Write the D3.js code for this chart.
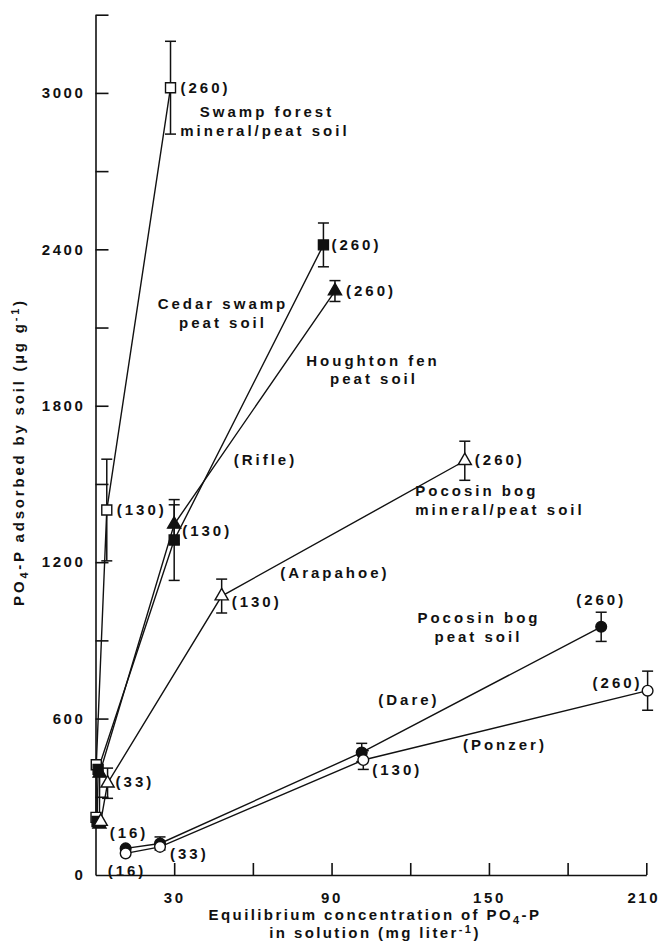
<!DOCTYPE html>
<html>
<head>
<meta charset="utf-8">
<script src="https://cdn.jsdelivr.net/npm/d3@7/dist/d3.min.js"></script>
<style>
  html, body { margin: 0; padding: 0; background: #fff; }
  svg text { font-family: "Liberation Sans", Arial, sans-serif; font-weight: bold; fill: #111; }
</style>
</head>
<body>
<svg id="chart" width="663" height="945"></svg>
<script>
// P added to the soil (mg/l), printed in brackets beside the points
const addedP = [16, 33, 130, 260];

// Swamp forest mineral/peat soil (open squares)
const swampX = [0.2, 0.3, 4.3, 28.6];
const swampY = [221, 423, 1400, 3020];
const swampErr = [0, 0, 195, 178];

// Cedar swamp peat soil (filled squares)
const cedarX = [0.6, 1.0, 30, 86.9];
const cedarY = [205, 405, 1285, 2417];
const cedarErr = [0, 0, 155, 84];

// Houghton fen peat soil (filled triangles)
const houghtonX = [1.5, 1.6, 30, 91.3];
const houghtonY = [195, 390, 1345, 2240];
const houghtonErr = [0, 0, 75, 40];

// Pocosin bog mineral/peat soil, Arapahoe (open triangles)
const arapahoeX = [2.0, 4.6, 48.1, 140.8];
const arapahoeY = [205, 352, 1070, 1589];
const arapahoeErr = [0, 58, 65, 75];

// Pocosin bog peat soil, Dare (filled circles)
const dareX = [11.5, 24.6, 101.5, 192.8];
const dareY = [102, 121, 470, 952];
const dareErr = [0, 25, 35, 56];

// Pocosin bog peat soil, Ponzer (open circles)
const ponzerX = [11.5, 24.6, 102.1, 210.5];
const ponzerY = [83, 108, 441, 707];
const ponzerErr = [0, 0, 36, 75];

// axis ticks
const xTicks = [30, 60, 90, 120, 150, 180, 210];
const xLabels = [30, 90, 150, 210];
const yTicks = [300, 600, 900, 1200, 1500, 1800, 2100, 2400, 2700, 3000, 3300];
const yLabels = [0, 600, 1200, 1800, 2400, 3000];

// soil names, placed in data units
const soilNames = ['Swamp forest', 'mineral/peat soil', 'Cedar swamp', 'peat soil',
  'Houghton fen', 'peat soil', '(Rifle)', '(Arapahoe)', 'Pocosin bog', 'mineral/peat soil',
  'Pocosin bog', 'peat soil', '(Dare)', '(Ponzer)'];
const soilNameX = [65.4, 64.6, 48.6, 48.6, 105.8, 106.2, 64.8, 91.3, 145.4, 154.2, 146.2, 146, 119.5, 156.1];
const soilNameY = [2906, 2836, 2170, 2100, 1952, 1882, 1573, 1139, 1452, 1380, 966, 892, 652, 479];

const series = [
  { key: 'swamp', x: swampX, y: swampY, err: swampErr, sym: d3.symbolSquare, size: 100, fill: '#fff' },
  { key: 'cedar', x: cedarX, y: cedarY, err: cedarErr, sym: d3.symbolSquare, size: 100, fill: '#111' },
  { key: 'houghton', x: houghtonX, y: houghtonY, err: houghtonErr, sym: d3.symbolTriangle, size: 75, fill: '#111' },
  { key: 'arapahoe', x: arapahoeX, y: arapahoeY, err: arapahoeErr, sym: d3.symbolTriangle, size: 75, fill: '#fff' },
  { key: 'dare', x: dareX, y: dareY, err: dareErr, sym: d3.symbolCircle, size: 90, fill: '#111' },
  { key: 'ponzer', x: ponzerX, y: ponzerY, err: ponzerErr, sym: d3.symbolCircle, size: 90, fill: '#fff' }
];

// which point gets a bracketed label, and where the label sits relative to it
const pointLabels = [
  { key: 'swamp', i: 3, dx: 10, dy: 5, anchor: 'start' },
  { key: 'cedar', i: 3, dx: 8, dy: 5, anchor: 'start' },
  { key: 'houghton', i: 3, dx: 11, dy: 5, anchor: 'start' },
  { key: 'swamp', i: 2, dx: 10, dy: 5, anchor: 'start' },
  { key: 'houghton', i: 2, dx: 8, dy: 12, anchor: 'start' },
  { key: 'arapahoe', i: 2, dx: 10, dy: 11, anchor: 'start' },
  { key: 'arapahoe', i: 3, dx: 10, dy: 4, anchor: 'start' },
  { key: 'dare', i: 3, dx: 0, dy: -22, anchor: 'middle' },
  { key: 'ponzer', i: 3, dx: -5, dy: -3, anchor: 'end' },
  { key: 'ponzer', i: 2, dx: 9, dy: 15, anchor: 'start' },
  { key: 'arapahoe', i: 1, dx: 8, dy: 4, anchor: 'start' },
  { key: 'dare', i: 0, dx: -16, dy: -10, anchor: 'start' },
  { key: 'ponzer', i: 1, dx: 10, dy: 12, anchor: 'start' },
  { key: 'ponzer', i: 0, dx: -18, dy: 23, anchor: 'start' }
];

const svg = d3.select('#chart');
const x = d3.scaleLinear().domain([0, 210]).range([95.5, 646.3]);
const y = d3.scaleLinear().domain([0, 3300]).range([875, 14.7]);

const FONT = '15px';
const SPACING = '3px';

// y axis, ticks pointing inward
const yAxis = d3.axisLeft(y)
  .tickValues([0].concat(yTicks))
  .tickSize(-13)
  .tickSizeOuter(0)
  .tickPadding(10)
  .tickFormat(d => yLabels.includes(d) ? d : '');
const gy = svg.append('g').attr('transform', `translate(${x(0)},0)`).call(yAxis);
gy.selectAll('.tick').filter(d => d === 0).select('line').remove();

// x axis, ticks pointing up
const xAxis = d3.axisBottom(x)
  .tickValues(xTicks)
  .tickSize(-12)
  .tickSizeOuter(0)
  .tickPadding(17)
  .tickFormat(d => xLabels.includes(d) ? d : '');
const gx = svg.append('g').attr('transform', `translate(0,${y(0)})`).call(xAxis);

[gx, gy].forEach(g => {
  g.select('.domain').attr('stroke', '#111').attr('stroke-width', 1.6);
  g.selectAll('.tick line').attr('stroke', '#111').attr('stroke-width', 1.6);
  g.selectAll('.tick text')
    .attr('fill', '#111')
    .style('font-size', FONT)
    .style('letter-spacing', '2.6px')
    .style('font-family', '"Liberation Sans", Arial, sans-serif')
    .style('font-weight', 'bold');
});
gx.selectAll('.tick text').filter(d => d === 210).attr('dx', '-3px');

// series lines
const line = d3.line().x(d => x(d[0])).y(d => y(d[1]));
series.forEach(s => {
  const pts = s.x.map((v, i) => [v, s.y[i]]);
  svg.append('path')
    .attr('d', line(pts))
    .attr('fill', 'none')
    .attr('stroke', '#111')
    .attr('stroke-width', 1.4);
});

// error bars
series.forEach(s => {
  s.x.forEach((v, i) => {
    const e = s.err[i];
    if (!e) return;
    const g = svg.append('g').attr('stroke', '#111').attr('stroke-width', 1.5);
    g.append('line').attr('x1', x(v)).attr('x2', x(v)).attr('y1', y(s.y[i] - e)).attr('y2', y(s.y[i] + e));
    [s.y[i] - e, s.y[i] + e].forEach(c => {
      g.append('line').attr('x1', x(v) - 5.5).attr('x2', x(v) + 5.5).attr('y1', y(c)).attr('y2', y(c));
    });
  });
});

// markers
series.forEach(s => {
  svg.append('g').selectAll('path')
    .data(s.x.map((v, i) => [v, s.y[i]]))
    .join('path')
    .attr('d', d3.symbol().type(s.sym).size(s.size))
    .attr('transform', d => `translate(${x(d[0])},${y(d[1])})`)
    .attr('fill', s.fill)
    .attr('stroke', '#111')
    .attr('stroke-width', 1.4);
});

// bracketed P-addition labels
const byKey = {};
series.forEach(s => { byKey[s.key] = s; });
svg.append('g').selectAll('text')
  .data(pointLabels)
  .join('text')
  .attr('x', d => x(byKey[d.key].x[d.i]) + d.dx)
  .attr('y', d => y(byKey[d.key].y[d.i]) + d.dy)
  .attr('text-anchor', d => d.anchor)
  .style('font-size', FONT)
  .style('letter-spacing', SPACING)
  .text(d => `(${addedP[d.i]})`);

// soil names
svg.append('g').selectAll('text')
  .data(soilNames)
  .join('text')
  .attr('x', (d, i) => x(soilNameX[i]))
  .attr('y', (d, i) => y(soilNameY[i]))
  .attr('text-anchor', 'middle')
  .style('font-size', FONT)
  .style('letter-spacing', SPACING)
  .text(d => d);

// axis titles
const xt = svg.append('text')
  .attr('x', 375).attr('y', 920)
  .attr('text-anchor', 'middle')
  .style('font-size', FONT)
  .style('letter-spacing', '2.4px');
xt.append('tspan').text('Equilibrium concentration of PO');
xt.append('tspan').attr('dy', 4).style('font-size', '11px').text('4');
xt.append('tspan').attr('dy', -4).text('-P');

const xt2 = svg.append('text')
  .attr('x', 375).attr('y', 938)
  .attr('text-anchor', 'middle')
  .style('font-size', FONT)
  .style('letter-spacing', '2.4px');
xt2.append('tspan').text('in solution (mg liter');
xt2.append('tspan').attr('dy', -5).style('font-size', '11px').text('-1');
xt2.append('tspan').attr('dy', 5).text(')');

const yt = svg.append('text')
  .attr('transform', 'translate(24,452) rotate(-90)')
  .attr('text-anchor', 'middle')
  .style('font-size', FONT)
  .style('letter-spacing', '2.8px');
yt.append('tspan').text('PO');
yt.append('tspan').attr('dy', 4).style('font-size', '11px').text('4');
yt.append('tspan').attr('dy', -4).text('-P adsorbed by soil (µg g');
yt.append('tspan').attr('dy', -5).style('font-size', '11px').text('-1');
yt.append('tspan').attr('dy', 5).text(')');
</script>
</body>
</html>
